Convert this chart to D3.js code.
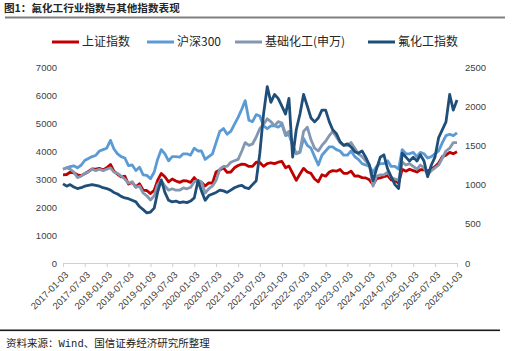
<!DOCTYPE html>
<html><head><meta charset="utf-8">
<script src="https://cdn.jsdelivr.net/npm/d3@7"></script>
<style>body{margin:0;background:#fff}svg{display:block}</style>
</head><body>
<svg id="c" width="519" height="351"></svg>
<script>
const title = "图1：氟化工行业指数与其他指数表现";
const source = "资料来源：Wind、国信证券经济研究所整理";
const seriesNames = ["上证指数","沪深300","基础化工(申万)","氟化工指数"];
const tickLabels = ["2017-01-03","2017-07-03","2018-01-03","2018-07-03","2019-01-03","2019-07-03","2020-01-03","2020-07-03","2021-01-03","2021-07-03","2022-01-03","2022-07-03","2023-01-03","2023-07-03","2024-01-03","2024-07-03","2025-01-03","2025-07-03","2026-01-03"];
const leftTicks = [0,1000,2000,3000,4000,5000,6000,7000];
const rightTicks = [0,500,1000,1500,2000,2500];
// monthly values 2017-01 .. 2026-01
const shanghai = [3150,3160,3240,3220,3150,3120,3190,3270,3360,3350,3380,3320,
 3400,3520,3280,3170,3080,3100,2820,2880,2720,2830,2600,2590,
 2480,2600,2950,3200,3080,2900,3000,2930,2880,2940,2930,2880,
 3050,2900,2880,2750,2860,2850,3250,3320,3400,3240,3250,3400,
 3480,3530,3520,3450,3450,3600,3590,3450,3550,3580,3550,3600,
 3630,3400,3460,3200,2950,3180,3380,3250,3200,3000,2900,3150,
 3100,3250,3300,3280,3340,3200,3200,3280,3100,3110,3050,3040,
 2970,2800,3010,3040,3080,3120,2970,2940,2850,3350,3280,3350,
 3300,3250,3330,3330,3280,3360,3440,3570,3800,3850,3950,3900,
 3970];
const hs300 = [3350,3400,3440,3470,3400,3490,3660,3730,3800,3840,4000,4050,
 4100,4380,4080,3900,3800,3750,3480,3500,3300,3420,3150,3130,
 3010,3250,3700,4050,3900,3650,3800,3800,3780,3900,3900,3850,
 4100,4000,4000,3700,3800,3900,4300,4700,4800,4600,4700,4950,
 5200,5500,5800,5100,5050,5300,5250,4900,4800,4900,4900,4850,
 4950,4550,4600,4200,3900,3950,4450,4200,4100,3800,3500,3850,
 4000,4150,4150,4050,4000,3850,3850,4000,3800,3700,3550,3500,
 3450,3250,3450,3550,3550,3650,3450,3450,3350,4050,3900,3900,
 3950,3800,3950,3900,3750,3800,3900,4000,4300,4550,4600,4550,
 4650];
const chem = [3350,3400,3350,3250,3050,3100,3200,3250,3350,3300,3350,3300,
 3350,3400,3250,3200,3100,3000,2850,2900,2700,2750,2500,2400,
 2250,2400,2800,2950,2750,2600,2650,2600,2600,2680,2650,2700,
 2900,2950,2900,2500,2650,2750,2950,3350,3450,3450,3600,3650,
 3700,4000,4300,4200,4250,4500,4800,4950,5150,5050,4900,5050,
 5000,4600,4700,4200,3900,4000,4700,4850,4400,4100,4000,4200,
 4350,4550,4700,4500,4300,4200,4200,4300,4100,3900,3800,3650,
 3500,2750,3100,3150,3150,3250,3050,3000,2950,3600,3500,3550,
 3450,3350,3500,3400,3150,3300,3400,3500,3750,4000,4100,4300,
 4300];
const fluoro = [1010,980,1000,970,950,960,980,990,1000,990,980,960,
 950,930,900,880,850,830,820,800,780,720,680,640,
 650,700,900,1060,900,800,780,790,770,780,770,790,
 830,1050,920,800,860,880,900,930,920,900,930,960,
 980,990,960,950,1000,1050,1400,1900,2250,2050,2150,2100,
 2000,1900,2100,1350,1700,1900,2150,2000,1850,1800,1850,1950,
 1950,1800,1700,1650,1550,1500,1520,1480,1420,1400,1430,1350,
 1250,1050,1200,1350,1380,1200,1100,1000,950,1400,1350,1300,
 1350,1300,1380,1300,1100,1250,1350,1600,1700,1800,2150,1950,
 2080];
const colors = ["#c00000","#5b9bd5","#8497b0","#1f4e79"];

const dates = d3.timeMonth.range(new Date(2017,0,1), new Date(2026,1,1)).map(d => new Date(d.getFullYear(), d.getMonth(), 3));
const parse = d3.timeParse("%Y-%m-%d");

const svg = d3.select("#c");
svg.append("rect").attr("width",519).attr("height",351).attr("fill","#fff");
const cjk = "'Noto Sans CJK SC', 'Liberation Sans', sans-serif";
const lat = "'Liberation Sans', Arial, sans-serif";

svg.append("text").attr("x",4).attr("y",12).attr("font-family",cjk).attr("font-size",10.6)
  .attr("font-weight","bold").attr("fill","#262626").text(title);
svg.append("rect").attr("x",5).attr("y",16.5).attr("width",500).attr("height",2).attr("fill","#808080");

const x = d3.scaleTime().domain([parse(tickLabels[0]), parse(tickLabels[tickLabels.length-1])]).range([63,457]);
const yL = d3.scaleLinear().domain([0,7000]).range([263,67]);
const yR = d3.scaleLinear().domain([0,2500]).range([263,67]);

// axes
const gL = svg.append("g").attr("transform","translate(57,0)")
  .call(d3.axisLeft(yL).tickValues(leftTicks).tickSize(0).tickPadding(0).tickFormat(d3.format("d")));
gL.select(".domain").remove();
gL.selectAll("text").attr("font-family",lat).attr("font-size",9.5).attr("fill","#404040");

const gR = svg.append("g").attr("transform","translate(465,0)")
  .call(d3.axisRight(yR).tickValues(rightTicks).tickSize(0).tickPadding(0).tickFormat(d3.format("d")));
gR.select(".domain").remove();
gR.selectAll("text").attr("font-family",lat).attr("font-size",9.5).attr("fill","#404040");

const gX = svg.append("g").attr("transform","translate(0,263)")
  .call(d3.axisBottom(x).tickValues(tickLabels.map(parse)).tickSize(4).tickSizeOuter(0).tickFormat(d3.timeFormat("%Y-%m-%d")));
gX.select(".domain").attr("stroke","#d0d0d0");
gX.selectAll(".tick line").attr("stroke","#d0d0d0");
gX.selectAll("text").attr("font-family",lat).attr("font-size",9.5).attr("fill","#404040")
  .attr("text-anchor","end").attr("transform","translate(-1,6) rotate(-45)").attr("dy","0.35em").attr("y",6);

// lines
const allSeries = [shanghai, hs300, chem, fluoro];
const scales = [yL, yL, yL, yR];
allSeries.forEach((vals, i) => {
  const line = d3.line().x((d,j) => x(dates[j])).y(d => scales[i](d));
  svg.append("path").datum(vals).attr("d", line).attr("fill","none")
    .attr("stroke", colors[i]).attr("stroke-width", 2.8).attr("stroke-linejoin","round");
});

// legend
const legendX = [52,147,235,368];
seriesNames.forEach((n,i) => {
  svg.append("line").attr("x1",legendX[i]).attr("x2",legendX[i]+27).attr("y1",42).attr("y2",42)
    .attr("stroke",colors[i]).attr("stroke-width",3);
  svg.append("text").attr("x",legendX[i]+30).attr("y",46.2).attr("font-family",cjk)
    .attr("font-size",12).attr("fill","#262626").text(n);
});

// bottom rule and source
svg.append("rect").attr("x",0).attr("y",329.5).attr("width",500).attr("height",1.6).attr("fill","#1a1a1a");
svg.append("text").attr("x",6).attr("y",347).attr("font-family","'Liberation Mono', 'Noto Sans CJK SC', monospace")
  .attr("font-size",10.5).attr("fill","#1a1a1a").text(source);
</script>
</body></html>
